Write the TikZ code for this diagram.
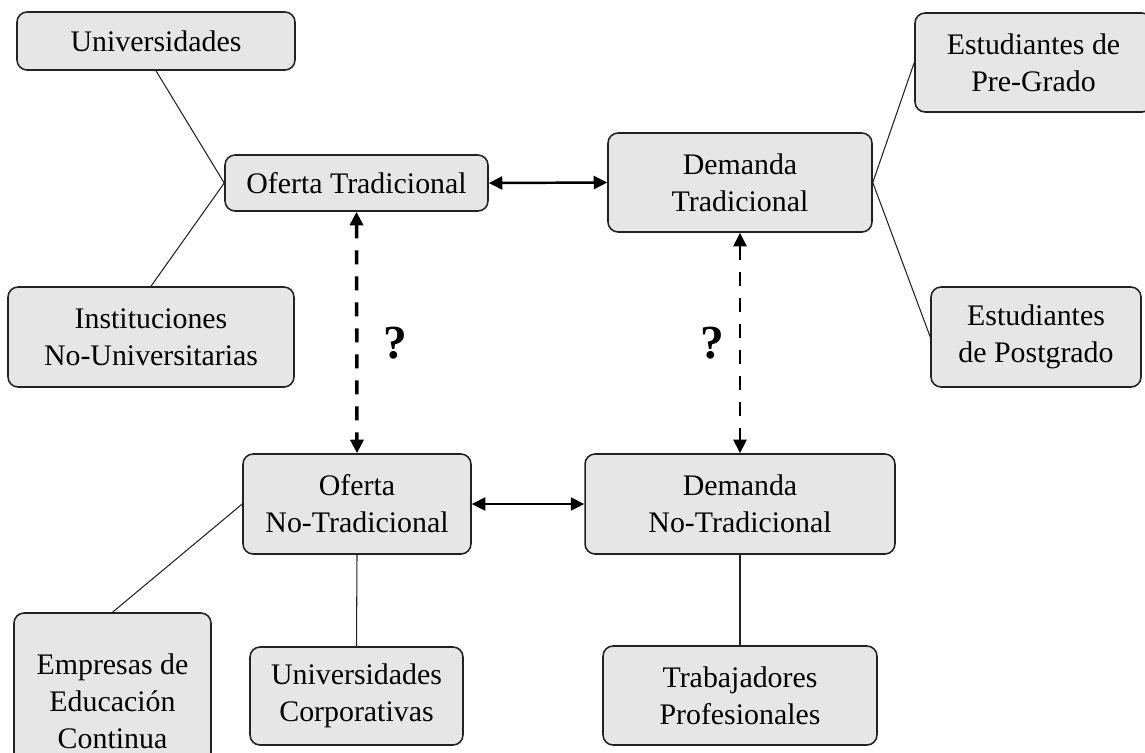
\documentclass[tikz,border=0pt]{standalone}
\usepackage{fontspec}
\setmainfont{Liberation Serif}
\usetikzlibrary{arrows.meta}
\definecolor{boxfill}{HTML}{E6E6E6}
\definecolor{boxline}{HTML}{222222}
\tikzset{
  box/.style={draw=boxline, line width=0.9pt, fill=boxfill, rounded corners=0.2cm,
    align=center, inner sep=0pt, font=\fontsize{17}{21}\selectfont},
  thinlink/.style={draw=boxline, line width=0.6pt},
  bothways/.style={line width=1.4pt, {Triangle[length=0.27cm,width=0.26cm]}-{Triangle[length=0.27cm,width=0.26cm]}},
  dashlink/.style={bothways, dash pattern=on 0.28cm off 0.24cm},
  qmark/.style={font=\fontsize{27}{30}\selectfont\bfseries, inner sep=0pt}
}
\begin{document}
\begin{tikzpicture}[x=0.02cm, y=-0.02cm]
  \useasboundingbox (0,0) rectangle (1145,752);

  % supply side
  \node[box, minimum width=5.56cm, minimum height=1.16cm] (uni)  at (156,41)    {Universidades};
  \node[box, minimum width=5.26cm, minimum height=1.12cm] (ot)   at (356.5,183) {Oferta Tradicional};
  \node[box, minimum width=5.72cm, minimum height=2.00cm] (inst) at (151,337)   {Instituciones\\No-Universitarias};
  \node[box, minimum width=4.56cm, minimum height=2.00cm] (ont)  at (357,504)   {Oferta\\No-Tradicional};
  \node[box, minimum width=3.94cm, minimum height=3.52cm] (emp)  at (112.5,701) {Empresas de\\Educación\\Continua};
  \node[box, minimum width=4.26cm, minimum height=1.96cm] (uc)   at (356.5,696) {Universidades\\Corporativas};

  % demand side
  \node[box, minimum width=5.28cm, minimum height=1.98cm] (dt)   at (740,182.5) {Demanda\\Tradicional};
  \node[box, minimum width=4.74cm, minimum height=1.98cm] (pre)  at (1033.5,62.5) {Estudiantes de\\Pre-Grado};
  \node[box, minimum width=4.20cm, minimum height=2.00cm] (post) at (1036,337)  {Estudiantes\\de Postgrado};
  \node[box, minimum width=6.20cm, minimum height=2.00cm] (dnt)  at (740,504)   {Demanda\\No-Tradicional};
  \node[box, minimum width=5.48cm, minimum height=1.98cm] (trab) at (740,695.5) {Trabajadores\\Profesionales};

  % membership links
  \draw[thinlink] (uni.south) -- (ot.west);
  \draw[thinlink] (inst.north) -- (ot.west);
  \draw[thinlink] (dt.east) -- (pre.west);
  \draw[thinlink] (dt.east) -- (post.west);
  \draw[thinlink] (ont.west) -- (emp.north);
  \draw[thinlink] (ont.south) -- (uc.north);
  \draw[thinlink] (dnt.south) -- (trab.north);

  % supply-demand relations
  \draw[bothways] (ot.east) -- (dt.west);
  \draw[bothways] (ont.east) -- (dnt.west);
  \draw[dashlink, line width=2pt] (ot.south) -- (ont.north);
  \draw[dashlink, line width=1.3pt] (dt.south) -- (dnt.north);

  \node[qmark] (q1) at (395,343) {?};
  \node[qmark] (q2) at (712,343) {?};
\end{tikzpicture}
\end{document}
